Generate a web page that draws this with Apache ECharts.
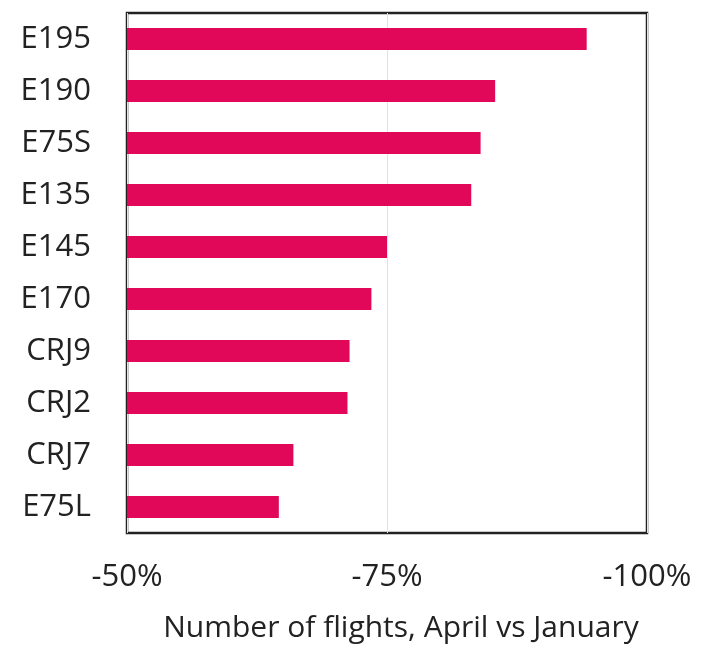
<!DOCTYPE html>
<html>
<head>
<meta charset="utf-8">
<script src="https://cdn.jsdelivr.net/npm/echarts@6/dist/echarts.min.js"></script>
<style>
  html, body { margin: 0; padding: 0; background: #fff; }
  #chart { width: 704px; height: 650px; }
</style>
</head>
<body>
<div id="chart"></div>
<script>
// aircraft types, top to bottom
var categories = ['E195', 'E190', 'E75S', 'E135', 'E145', 'E170', 'CRJ9', 'CRJ2', 'CRJ7', 'E75L'];
// change in number of flights, April vs January (%)
var changes = [-94.2, -85.4, -84.0, -83.1, -75.0, -73.5, -71.4, -71.2, -66.0, -64.6];
var axisMin = -100, axisMax = -50, axisStep = 25;

var myChart = echarts.init(document.getElementById('chart'));
var option = {
    animation: false,
    grid: {
        left: 127,
        right: 57,
        top: 13,
        bottom: 117,
        show: true,
        borderColor: '#222',
        borderWidth: 2.5,
        backgroundColor: 'transparent'
    },
    xAxis: {
        type: 'value',
        inverse: true,
        min: axisMin,
        max: axisMax,
        interval: axisStep,
        name: 'Number of flights, April vs January',
        nameLocation: 'middle',
        nameGap: 80,
        nameTextStyle: {
            fontFamily: 'Open Sans',
            fontSize: 30,
            color: '#222',
            padding: [0, 0, 0, 28]
        },
        axisLine: { show: false },
        axisTick: { show: false },
        axisLabel: {
            margin: 29,
            fontFamily: 'Open Sans',
            fontSize: 31,
            color: '#222',
            formatter: function (v) { return v + '%'; }
        },
        splitLine: { show: true, lineStyle: { color: '#e2e2e2', width: 1 } }
    },
    yAxis: {
        type: 'category',
        inverse: true,
        data: categories,
        axisLine: { show: false },
        axisTick: { show: false },
        axisLabel: {
            margin: 36,
            fontFamily: 'Open Sans',
            fontSize: 31,
            color: '#222'
        }
    },
    series: [{
        type: 'bar',
        data: changes,
        barWidth: '42%',
        clip: true,
        itemStyle: { color: '#E1085A' }
    }]
};
myChart.setOption(option);
</script>
</body>
</html>
